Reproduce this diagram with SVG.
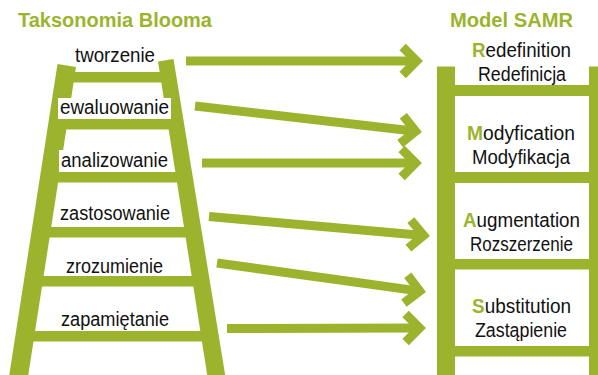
<svg xmlns="http://www.w3.org/2000/svg" width="598" height="375" viewBox="0 0 598 375">
<style>
.g{fill:#9cb42d}
.title{font-family:"Liberation Sans",Arial,sans-serif;font-weight:bold;font-size:20px;fill:#9cb42d}
.lbl{font-family:"Liberation Sans",Arial,sans-serif;font-size:20px;fill:#111;text-anchor:middle}
.hl{fill:#9cb42d;font-weight:bold}
.bg{fill:#fff}
.arr{stroke:#9cb42d;stroke-width:9;fill:none;marker-end:url(#chev)}
</style>
<defs>
<marker id="chev" markerUnits="userSpaceOnUse" markerWidth="40" markerHeight="40" refX="0" refY="0" orient="auto" overflow="visible" viewBox="-20 -20 40 40">
<polyline points="-14,-14 0,0 -14,14" fill="none" stroke="#9cb42d" stroke-width="9" stroke-linejoin="miter"/>
</marker>
</defs>
<rect width="598" height="375" fill="#fff"/>
<text class="title" x="18" y="27" textLength="194" lengthAdjust="spacingAndGlyphs">Taksonomia Blooma</text>
<text class="title" x="450" y="27" textLength="123" lengthAdjust="spacingAndGlyphs">Model SAMR</text>
<g id="bloom-ladder">
<polygon class="g" points="57.5,64 76,67 27.5,380 8.5,380"/>
<polygon class="g" points="158,61.5 173.5,59 226,380 208,380"/>
<rect class="bg" x="77" y="44" width="81" height="28"/>
<rect class="bg" x="58" y="98" width="113" height="21"/>
<rect class="bg" x="59" y="150" width="113" height="22"/>
<rect class="g" x="64" y="72" width="105" height="10.5"/>
<rect class="g" x="57" y="119" width="119" height="10.5"/>
<rect class="g" x="49" y="172" width="136" height="10.5"/>
<rect class="g" x="40" y="227" width="154" height="10.5"/>
<rect class="g" x="33" y="276" width="168" height="10.5"/>
<rect class="g" x="24" y="331" width="186" height="10.5"/>
</g>
<g id="bloom-labels">
<text id="tworzenie" class="lbl" x="115" y="62" textLength="80" lengthAdjust="spacingAndGlyphs">tworzenie</text>
<text id="ewaluowanie" class="lbl" x="114.5" y="114" textLength="109" lengthAdjust="spacingAndGlyphs">ewaluowanie</text>
<text id="analizowanie" class="lbl" x="114.5" y="167" textLength="107" lengthAdjust="spacingAndGlyphs">analizowanie</text>
<text id="zastosowanie" class="lbl" x="115" y="220" textLength="110" lengthAdjust="spacingAndGlyphs">zastosowanie</text>
<text id="zrozumienie" class="lbl" x="114.5" y="273" textLength="97" lengthAdjust="spacingAndGlyphs">zrozumienie</text>
<text id="zapamietanie" class="lbl" x="115" y="326" textLength="108" lengthAdjust="spacingAndGlyphs">zapamiętanie</text>
</g>
<g id="samr-ladder">
<rect class="g" x="437" y="66.5" width="18" height="310"/>
<rect class="g" x="589" y="66.5" width="12" height="310"/>
<rect class="g" x="455" y="85" width="134" height="11"/>
<rect class="g" x="455" y="172" width="134" height="11"/>
<rect class="g" x="455" y="259" width="134" height="10.5"/>
<rect class="g" x="455" y="346" width="134" height="10.5"/>
</g>
<g id="samr-R">
<text class="lbl" x="521.5" y="57" textLength="99" lengthAdjust="spacingAndGlyphs"><tspan class="hl">R</tspan>edefinition</text>
<text class="lbl" x="522" y="81" textLength="88" lengthAdjust="spacingAndGlyphs">Redefinicja</text>
</g>
<g id="samr-M">
<text class="lbl" x="521" y="140" textLength="108" lengthAdjust="spacingAndGlyphs"><tspan class="hl">M</tspan>odyfication</text>
<text class="lbl" x="521" y="164" textLength="98" lengthAdjust="spacingAndGlyphs">Modyfikacja</text>
</g>
<g id="samr-A">
<text class="lbl" x="521.5" y="227" textLength="117" lengthAdjust="spacingAndGlyphs"><tspan class="hl">A</tspan>ugmentation</text>
<text class="lbl" x="521.5" y="251" textLength="103" lengthAdjust="spacingAndGlyphs">Rozszerzenie</text>
</g>
<g id="samr-S">
<text class="lbl" x="521.5" y="313" textLength="99" lengthAdjust="spacingAndGlyphs"><tspan class="hl">S</tspan>ubstitution</text>
<text class="lbl" x="521" y="337" textLength="92" lengthAdjust="spacingAndGlyphs">Zastąpienie</text>
</g>
<g id="connectors">
<line class="arr" x1="186" y1="61" x2="416.6" y2="61"/>
<line class="arr" x1="195" y1="106" x2="415.6" y2="131.3"/>
<line class="arr" x1="202" y1="163" x2="415.6" y2="163"/>
<line class="arr" x1="209" y1="216.5" x2="423.6" y2="235.4"/>
<line class="arr" x1="217" y1="263" x2="419.7" y2="291.1"/>
<line class="arr" x1="227" y1="328.5" x2="419.6" y2="328"/>
</g>
</svg>
